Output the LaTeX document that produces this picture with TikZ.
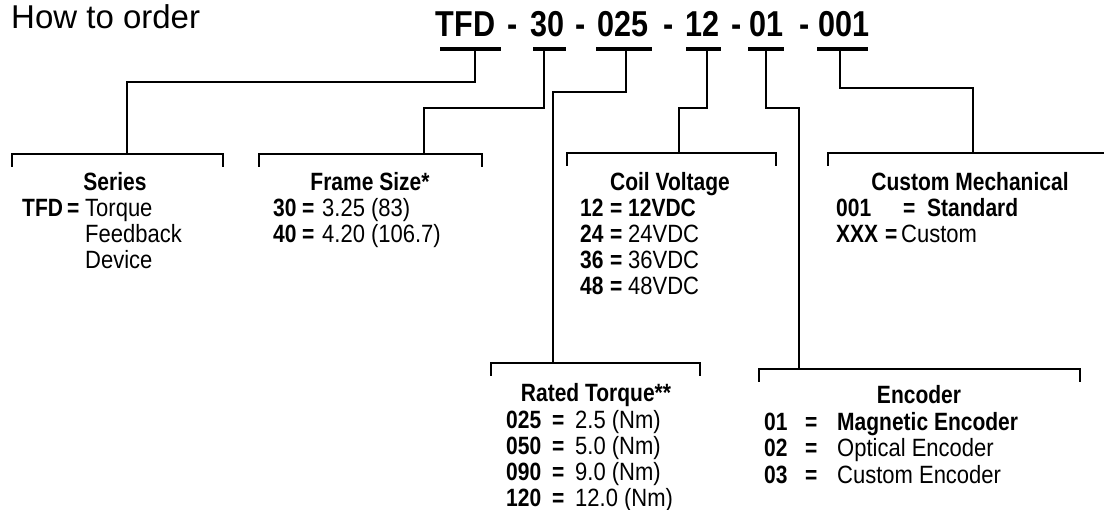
\documentclass[tikz,border=0pt]{standalone}
\usepackage{fontspec}
\setmainfont{Liberation Sans}[FakeStretch=0.88, BoldFeatures={FakeStretch=0.84}]
\newfontfamily\codefont{Liberation Sans}[FakeStretch=0.85]
\newfontfamily\titlefont{Liberation Sans}
\newcommand\bodysize{\fontsize{25}{29}\selectfont}

\begin{document}
\begin{tikzpicture}[
    x=1pt, y=-1pt,
    head/.style={anchor=base, inner sep=0pt, font=\bodysize\bfseries},
    key/.style={anchor=base west, inner sep=0pt, font=\bodysize\bfseries},
    val/.style={anchor=base west, inner sep=0pt, font=\bodysize},
    code/.style={anchor=base, inner sep=0pt, font=\codefont\fontsize{36}{42}\selectfont\bfseries},
    uline/.style={line width=3.2pt},
    link/.style={line width=2.2pt},
    bracket/.style={line width=2.2pt}
  ]
  \useasboundingbox (0,0) rectangle (1104,510);
  \node[anchor=base west, inner sep=0pt, font=\titlefont\fontsize{33}{38}\selectfont] (title) at (11,28.5) {How to order};
  % Code parts with underlines
  \foreach \name/\txt/\tx/\a/\b/\sx in {tfd/TFD/465.5/440/501/475, 30/30/547.5/533/566/544,
                                        025/025/623/596/652/626, 12/12/702.5/686/721/707,
                                        01/01/766.5/748/784/766, 001/001/844/817/868/840}{
    \node[code] (c-\name) at (\tx,37) {\txt};
    \draw[uline] (\a,49) -- (\b,49);
    \coordinate (s-\name) at (\sx,49);
  }
  \foreach \x [count=\i] in {513,581,669,737,805}
    \node[code] (dash\i) at (\x,37) {-};
  % Brackets
  \foreach \name/\l/\m/\r/\y in {series/12/127/223/154, frame/259/424/482/154, coil/567/679/776/153,
                                 torque/491/553/700/363, encoder/759/799/1080/369}{
    \coordinate (b-\name) at (\m,\y);
    \draw[bracket] (\l,\y+13) -- (\l,\y) -- (\r,\y) -- (\r,\y+13);
  }
  \coordinate (b-custom) at (973,153);
  \draw[bracket] (828,166) -- (828,153) -- (1104,153);
  % Links from code to brackets
  \foreach \name/\dy/\blk in {tfd/33/series, 30/59/frame, 025/43/torque,
                              12/59/coil, 01/59/encoder, 001/39/custom}
    \draw[link] (s-\name) -- ++(0,\dy) -| (b-\blk);
  % Series
  \node[head] (series) at (115,191) {Series};
  \node[key] (series-k1) at (22,217) {TFD};
  \node[key] (series-e1) at (67,217) {=};
  \foreach \v [count=\i] in {Torque, Feedback, Device}
    \node[val] (series-v\i) at (85,{191+26*\i}) {\v};
  % Frame size
  \node[head] (frame) at (370,191) {Frame Size*};
  \foreach \k/\v [count=\i] in {30/3.25 (83), 40/4.20 (106.7)}{
    \node[key] (frame-k\i) at (273,{191+26*\i}) {\k};
    \node[key] (frame-e\i) at (302,{191+26*\i}) {=};
    \node[val] (frame-v\i) at (322,{191+26*\i}) {\v};
  }
  % Coil voltage
  \node[head] (coil) at (670,191) {Coil Voltage};
  \foreach \k/\v [count=\i] in {12/\textbf{12VDC}, 24/24VDC, 36/36VDC, 48/48VDC}{
    \node[key] (coil-k\i) at (580,{191+26*\i}) {\k};
    \node[key] (coil-e\i) at (610,{191+26*\i}) {=};
    \node[val] (coil-v\i) at (628,{191+26*\i}) {\v};
  }
  % Custom mechanical
  \node[head] (custom) at (970,191) {Custom Mechanical};
  \node[key] (custom-k1) at (836,217) {001};
  \node[key] (custom-e1) at (903,217) {=};
  \node[key] (custom-v1) at (927,217) {Standard};
  \node[key] (custom-k2) at (836,243) {XXX};
  \node[key] (custom-e2) at (885,243) {=};
  \node[val] (custom-v2) at (901,243) {Custom};
  % Rated torque
  \node[head] (torque) at (596,402) {Rated Torque**};
  \foreach \k/\v [count=\i] in {025/2.5 (Nm), 050/5.0 (Nm), 090/9.0 (Nm), 120/12.0 (Nm)}{
    \node[key] (torque-k\i) at (506,{402+26.2*\i}) {\k};
    \node[key] (torque-e\i) at (552,{402+26.2*\i}) {=};
    \node[val] (torque-v\i) at (575,{402+26.2*\i}) {\v};
  }
  % Encoder
  \node[head] (encoder) at (919,404) {Encoder};
  \foreach \k/\v [count=\i] in {01/\textbf{Magnetic Encoder}, 02/Optical Encoder, 03/Custom Encoder}{
    \node[key] (encoder-k\i) at (764,{404+26.5*\i}) {\k};
    \node[key] (encoder-e\i) at (805,{404+26.5*\i}) {=};
    \node[val] (encoder-v\i) at (837,{404+26.5*\i}) {\v};
  }
\end{tikzpicture}
\end{document}
